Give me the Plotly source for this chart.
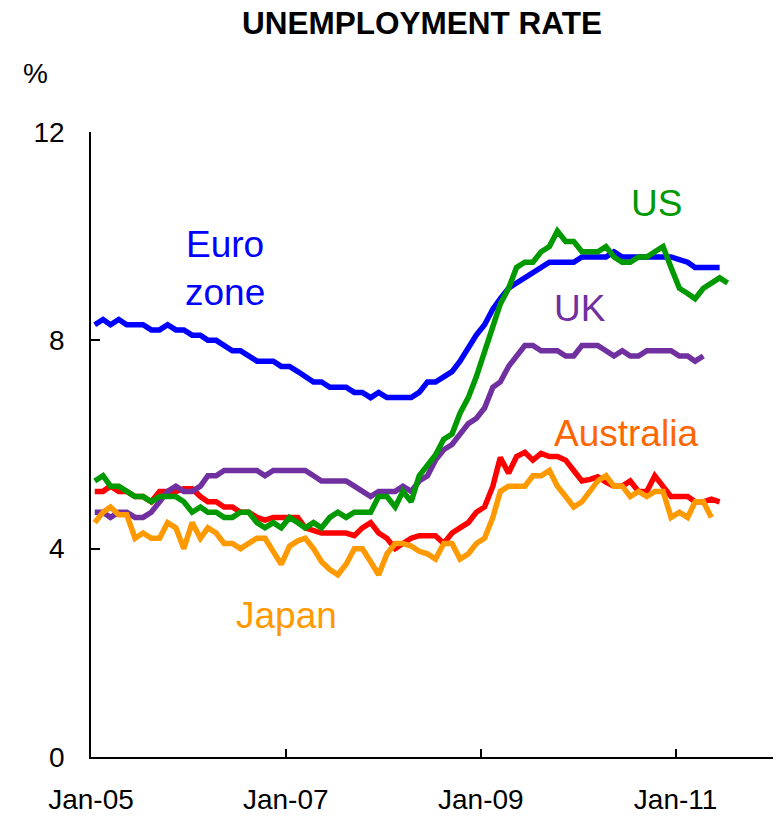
import pandas as pd
import plotly.graph_objects as go

# Monthly unemployment rates (%), starting January 2005
euro_zone = [8.3, 8.4, 8.3, 8.4, 8.3, 8.3, 8.3, 8.2, 8.2, 8.3, 8.2, 8.2,
             8.1, 8.1, 8.0, 8.0, 7.9, 7.8, 7.8, 7.7, 7.6, 7.6, 7.6, 7.5,
             7.5, 7.4, 7.3, 7.2, 7.2, 7.1, 7.1, 7.1, 7.0, 7.0, 6.9, 7.0,
             6.9, 6.9, 6.9, 6.9, 7.0, 7.2, 7.2, 7.3, 7.4, 7.6, 7.85, 8.1,
             8.3, 8.6, 8.8, 9.0, 9.1, 9.2, 9.3, 9.4, 9.5, 9.5, 9.5, 9.5,
             9.6, 9.6, 9.6, 9.6, 9.7, 9.6, 9.6, 9.6, 9.6, 9.6, 9.6, 9.6,
             9.55, 9.5, 9.4, 9.4, 9.4, 9.4]

us = [5.3, 5.4, 5.2, 5.2, 5.1, 5.0, 5.0, 4.9, 5.0, 5.0, 5.0, 4.9,
      4.7, 4.8, 4.7, 4.7, 4.6, 4.6, 4.7, 4.7, 4.5, 4.4, 4.5, 4.4,
      4.6, 4.5, 4.4, 4.5, 4.4, 4.6, 4.7, 4.6, 4.7, 4.7, 4.7, 5.0,
      5.0, 4.8, 5.1, 4.9, 5.4, 5.6, 5.8, 6.1, 6.2, 6.6, 6.9, 7.3,
      7.8, 8.3, 8.7, 9.0, 9.4, 9.5, 9.5, 9.7, 9.8, 10.1, 9.9, 9.9,
      9.7, 9.7, 9.7, 9.8, 9.6, 9.5, 9.5, 9.6, 9.6, 9.7, 9.8, 9.4,
      9.0, 8.9, 8.8, 9.0, 9.1, 9.2, 9.1]

uk = [4.7, 4.7, 4.6, 4.7, 4.7, 4.6, 4.6, 4.7, 4.9, 5.1, 5.2, 5.1,
      5.1, 5.2, 5.4, 5.4, 5.5, 5.5, 5.5, 5.5, 5.5, 5.4, 5.5, 5.5,
      5.5, 5.5, 5.5, 5.4, 5.3, 5.3, 5.3, 5.3, 5.2, 5.1, 5.0, 5.1,
      5.1, 5.1, 5.2, 5.1, 5.3, 5.4, 5.7, 5.9, 6.0, 6.2, 6.4, 6.5,
      6.7, 7.1, 7.2, 7.5, 7.7, 7.9, 7.9, 7.8, 7.8, 7.8, 7.7, 7.7,
      7.9, 7.9, 7.9, 7.8, 7.7, 7.8, 7.7, 7.7, 7.8, 7.8, 7.8, 7.8,
      7.7, 7.7, 7.6, 7.7]

australia = [5.1, 5.1, 5.2, 5.1, 5.1, 5.0, 5.0, 4.9, 5.1, 5.1, 5.1, 5.15,
             5.15, 5.0, 4.9, 4.9, 4.8, 4.8, 4.7, 4.7, 4.6, 4.55, 4.6, 4.6,
             4.6, 4.6, 4.4, 4.35, 4.3, 4.3, 4.3, 4.3, 4.25, 4.4, 4.5, 4.3,
             4.2, 4.0, 4.1, 4.2, 4.25, 4.25, 4.25, 4.1, 4.3, 4.4, 4.5, 4.7,
             4.8, 5.2, 5.75, 5.45, 5.77, 5.85, 5.7, 5.83, 5.77, 5.77, 5.7, 5.5,
             5.3, 5.33, 5.38, 5.28, 5.2, 5.2, 5.3, 5.1, 5.1, 5.4, 5.2, 5.0,
             5.0, 5.0, 4.9, 4.9, 4.95, 4.9]

japan = [4.5, 4.7, 4.8, 4.65, 4.65, 4.2, 4.3, 4.2, 4.2, 4.5, 4.4, 4.0,
         4.5, 4.2, 4.4, 4.3, 4.1, 4.1, 4.0, 4.1, 4.2, 4.2, 3.95, 3.7,
         4.05, 4.15, 4.2, 4.0, 3.75, 3.6, 3.5, 3.7, 4.0, 4.0, 3.75, 3.5,
         3.9, 4.1, 4.1, 4.05, 3.95, 3.9, 3.8, 4.1, 4.1, 3.8, 3.9, 4.1,
         4.2, 4.6, 5.1, 5.2, 5.2, 5.2, 5.4, 5.4, 5.5, 5.2, 5.0, 4.8,
         4.9, 5.1, 5.3, 5.4, 5.2, 5.2, 5.0, 5.1, 5.0, 5.1, 5.1, 4.6,
         4.7, 4.6, 4.9, 4.9, 4.6]

tick_dates = ["2005-01-01", "2007-01-01", "2009-01-01", "2011-01-01"]
tick_labels = ["Jan-05", "Jan-07", "Jan-09", "Jan-11"]

FONT = "Liberation Sans, Arial, sans-serif"


def months(n):
    # each observation sits in the middle of its month
    return pd.date_range("2005-01-01", periods=n, freq="MS") + pd.Timedelta(days=14)


series = [
    ("Australia", australia, "#FF0000"),
    ("UK", uk, "#7030A0"),
    ("Japan", japan, "#FF9900"),
    ("Euro zone", euro_zone, "#0000FF"),
    ("US", us, "#009900"),
]

fig = go.Figure()
for name, vals, color in series:
    fig.add_trace(go.Scatter(
        x=months(len(vals)), y=vals, name=name, mode="lines",
        line=dict(color=color, width=5.5), hoverinfo="x+y+name",
    ))

labels = [
    ("Euro<br>zone", 0.196, 0.781, "#0000FF"),
    ("US", 0.829, 0.886, "#009900"),
    ("UK", 0.717, 0.718, "#7030A0"),
    ("Australia", 0.785, 0.518, "#FF6600"),
    ("Japan", 0.286, 0.226, "#FF9900"),
]
for text, xp, yp, color in labels:
    fig.add_annotation(text=text, x=xp, y=yp, xref="paper", yref="paper",
                       showarrow=False, xanchor="center", yanchor="middle",
                       font=dict(family=FONT, size=37, color=color))

fig.add_annotation(text="<b>UNEMPLOYMENT RATE</b>", x=0.485, y=1.174,
                   xref="paper", yref="paper", showarrow=False,
                   xanchor="center", yanchor="middle",
                   font=dict(family=FONT, size=31.5, color="black"))
fig.add_annotation(text="%", x=-0.082, y=1.093, xref="paper", yref="paper",
                   showarrow=False, xanchor="center", yanchor="middle",
                   font=dict(family=FONT, size=28, color="black"))

fig.update_layout(
    width=779, height=816,
    margin=dict(l=91, r=5.5, t=132, b=59, pad=0, autoexpand=False),
    paper_bgcolor="white", plot_bgcolor="white",
    showlegend=False,
    font=dict(family=FONT, size=28, color="black"),
)
fig.update_xaxes(
    type="date", range=["2005-01-01", "2012-01-01"],
    tickmode="array", tickvals=tick_dates, ticktext=tick_labels,
    ticks="inside", ticklen=8, tickwidth=1.5, tickcolor="black",
    showline=True, linecolor="black", linewidth=1.5,
    showgrid=False, zeroline=False, ticklabelstandoff=17, automargin=False,
    tickfont=dict(family=FONT, size=28, color="black"),
)
fig.update_yaxes(
    range=[0, 12], tickvals=[0, 4, 8, 12],
    ticks="inside", ticklen=9, tickwidth=1.5, tickcolor="black",
    showline=True, linecolor="black", linewidth=1.5,
    showgrid=False, zeroline=False, ticklabelstandoff=19, automargin=False,
    tickfont=dict(family=FONT, size=28, color="black"),
)

fig.write_html("out.html")
